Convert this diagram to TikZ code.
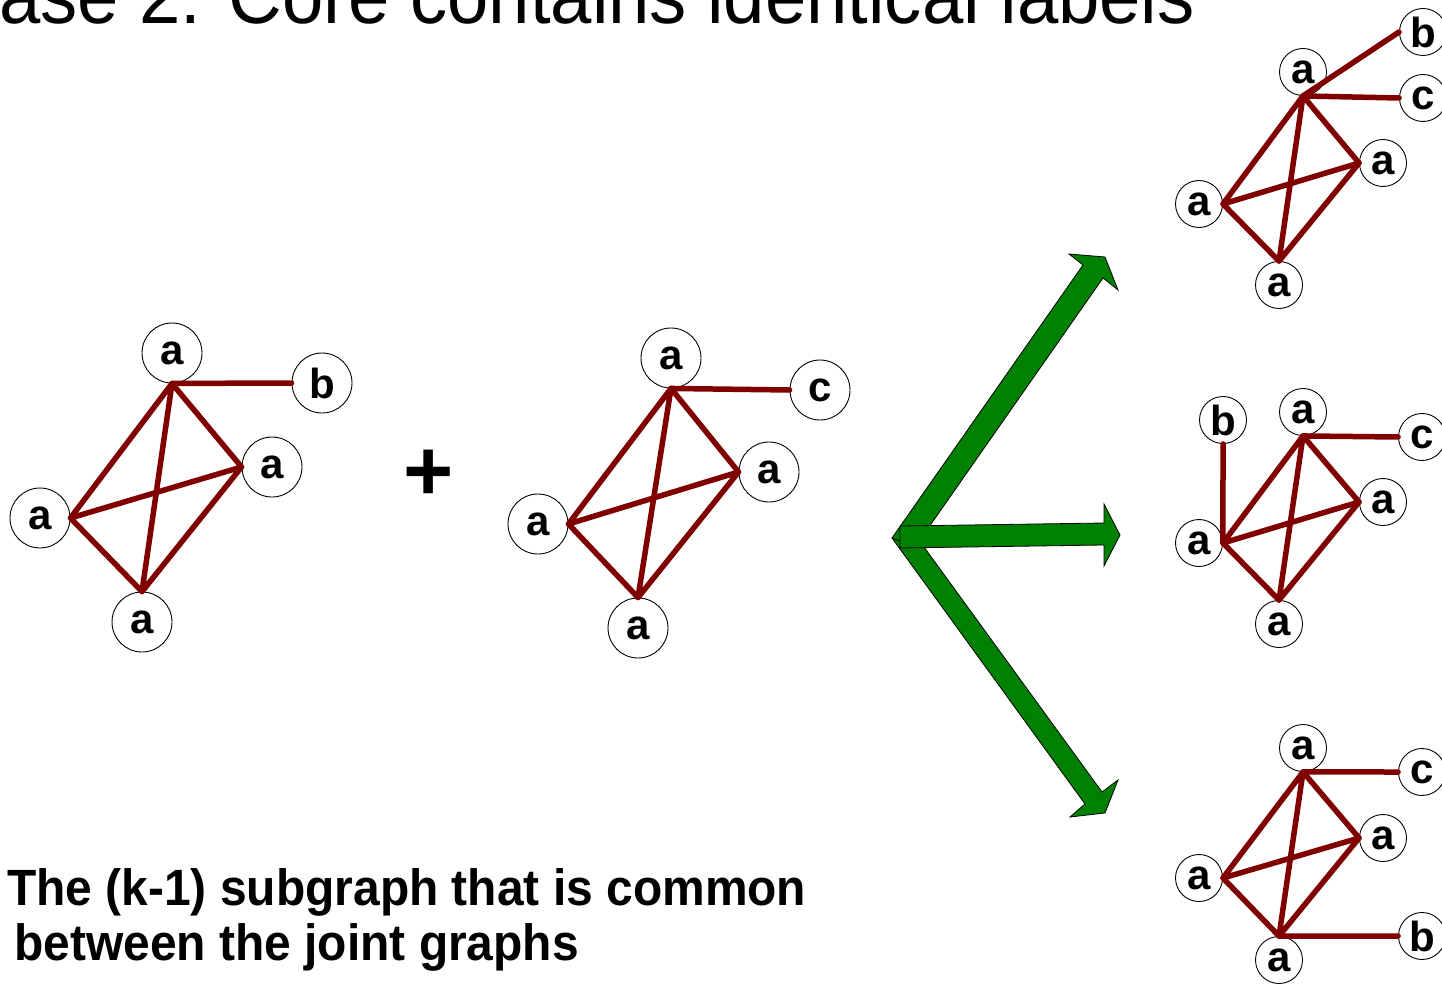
\documentclass[tikz,border=0pt]{standalone}
\usepackage{fontspec}
\setmainfont{Liberation Sans}
\newfontfamily\narrowfont{Liberation Sans}[FakeStretch=0.94]
\definecolor{edgered}{RGB}{128,0,0}
\definecolor{arrowgreen}{RGB}{0,128,0}
\tikzset{
  vbig/.style={circle,draw=black,line width=0.9pt,minimum size=60pt,inner sep=0pt,
    font=\fontsize{42}{42}\selectfont\bfseries},
  vsm/.style={vbig,minimum size=47pt},
  ed/.style={draw=edgered,line width=5.5pt,line cap=round},
  garrow/.style={fill=arrowgreen,draw=black,line width=0.8pt,line join=miter},
  txt/.style={inner sep=0pt,anchor=base west},
}
\newcommand{\kfouredges}[1]{%
  \draw[ed] (#1t.south) -- (#1r.west) (#1t.south) -- (#1l.east) (#1t.south) -- (#1bo.north)
    (#1l.east) -- (#1r.west) (#1l.east) -- (#1bo.north) (#1r.west) -- (#1bo.north);}
\begin{document}
\begin{tikzpicture}[x=1pt,y=-1pt]
\useasboundingbox (0,0) rectangle (1442,984);

% title
\node[inner sep=0pt,anchor=base east,font=\fontsize{79}{79}\narrowfont] (title) at (1195,24)
  {Case 2: Core contains identical labels};

% graph 1
\node[vbig] (At) at (172,353) {a};
\node[vbig] (Ab) at (322,383) {b};
\node[vbig] (Ar) at (272,467) {a};
\node[vbig] (Al) at (40,518) {a};
\node[vbig] (Abo) at (142,622) {a};
\kfouredges{A}
\draw[ed] (At.south) -- (Ab.west);

% plus
\node[inner sep=0pt,font=\fontsize{86}{86}\selectfont\bfseries] (plus) at (428.5,475) {+};

% graph 2
\node[vbig] (Bt) at (671,358) {a};
\node[vbig] (Bc) at (820,390) {c};
\node[vbig] (Br) at (769,472) {a};
\node[vbig] (Bl) at (538,524) {a};
\node[vbig] (Bbo) at (638,628) {a};
\kfouredges{B}
\draw[ed] (Bt.south) -- (Bc.west);

% green arrows
\draw[garrow] (892,538) -- (1085,804) -- (1070,817) -- (1105,813) -- (1118,780) -- (1102,792) -- (908,525) -- cycle;
\draw[garrow] (892,538) -- (1083,265) -- (1069,254) -- (1105,257) -- (1118,290) -- (1103,278) -- (915,547) -- cycle;
\draw[garrow] (900,526) -- (1104,523) -- (1104,504) -- (1120,535) -- (1104,566) -- (1104,545) -- (900,548) -- cycle;

% result 1
\node[vsm] (Ct) at (1303,72) {a};
\node[vsm] (Cb) at (1423,32) {b};
\node[vsm] (Cc) at (1423,98) {c};
\node[vsm] (Cr) at (1383,163) {a};
\node[vsm] (Cl) at (1199,204) {a};
\node[vsm] (Cbo) at (1279,285) {a};
\kfouredges{C}
\draw[ed] (Ct.south) -- (Cb.west) (Ct.south) -- (Cc.west);

% result 2
\node[vsm] (Db) at (1223,420) {b};
\node[vsm] (Dt) at (1303,412) {a};
\node[vsm] (Dc) at (1422,437) {c};
\node[vsm] (Dr) at (1383,502) {a};
\node[vsm] (Dl) at (1199,543) {a};
\node[vsm] (Dbo) at (1279,624) {a};
\kfouredges{D}
\draw[ed] (Dt.south) -- (Dc.west) (Dl.east) -- (Db.south);

% result 3
\node[vsm] (Et) at (1303,748) {a};
\node[vsm] (Ec) at (1422,772) {c};
\node[vsm] (Er) at (1383,838) {a};
\node[vsm] (El) at (1199,878) {a};
\node[vsm] (Ebo) at (1279,960) {a};
\node[vsm] (Eb) at (1422,936) {b};
\kfouredges{E}
\draw[ed] (Et.south) -- (Ec.west) (Ebo.north) -- (Eb.west);

% caption
\node[txt,font=\fontsize{51}{51}\narrowfont\bfseries] (cap1) at (7,905) {The (k-1) subgraph that is common};
\node[txt,font=\fontsize{51}{51}\narrowfont\bfseries] (cap2) at (14,960) {between the joint graphs};
\end{tikzpicture}
\end{document}
